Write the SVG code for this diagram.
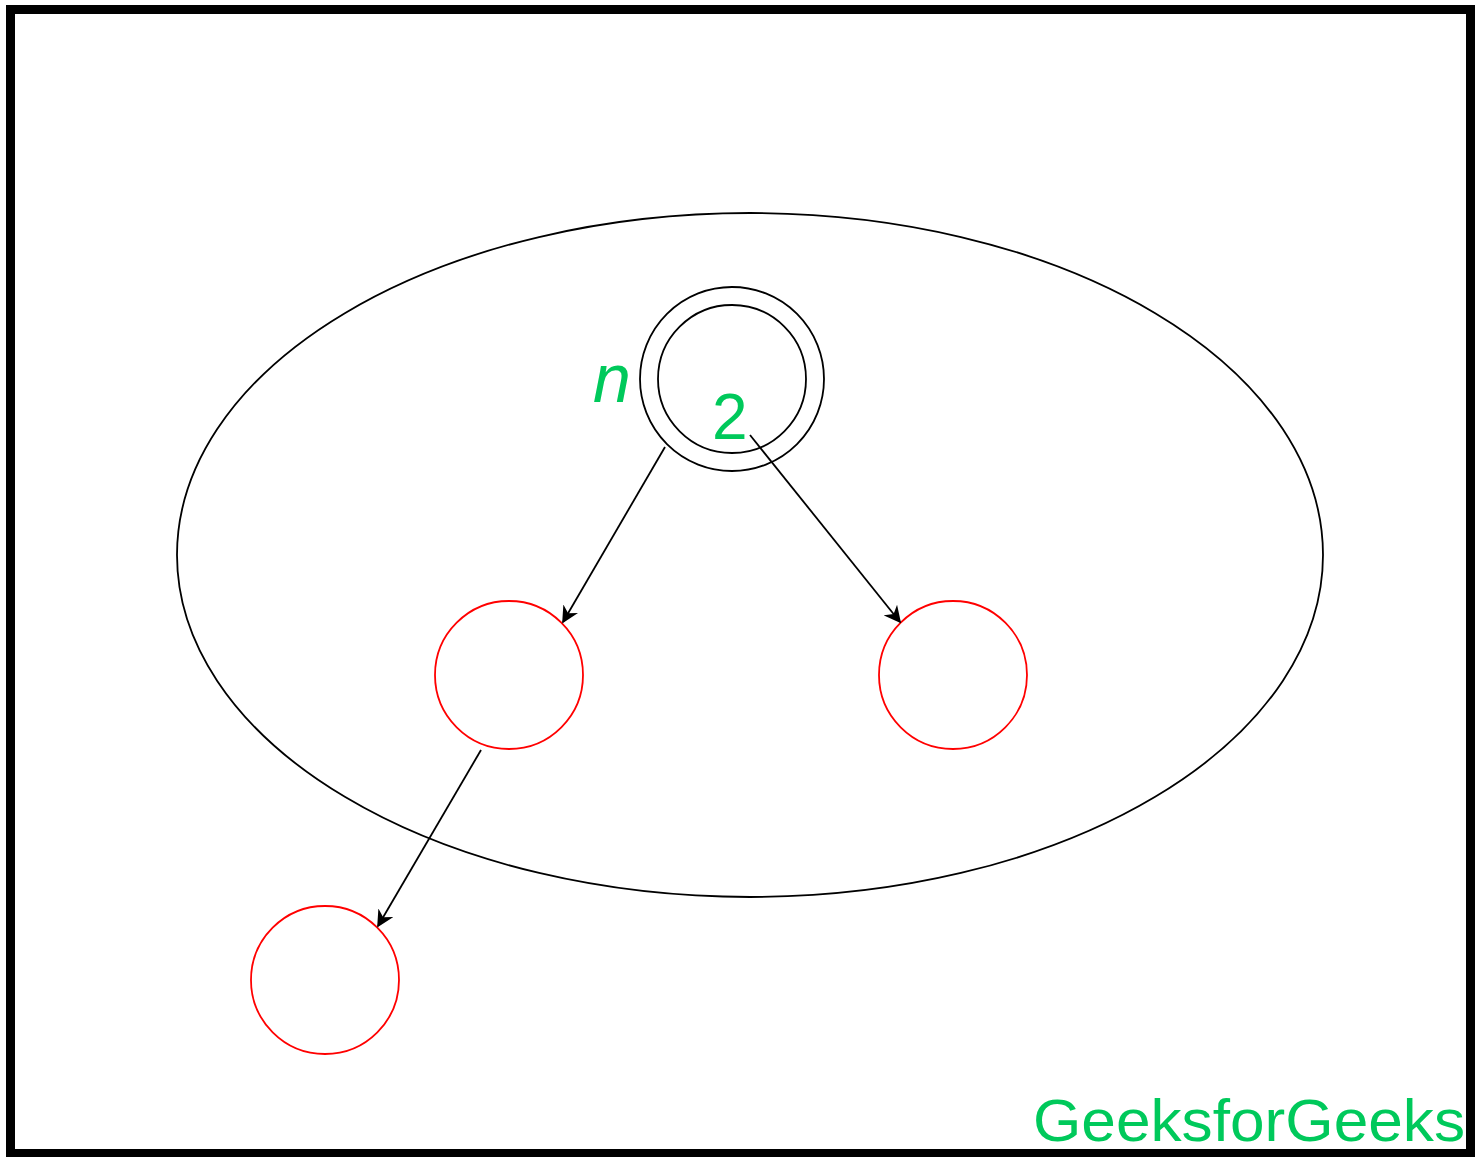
<svg xmlns="http://www.w3.org/2000/svg" width="1484" height="1157" viewBox="0 0 1484 1157">
<style>
.red{fill:none;stroke:#ff0000;stroke-width:1.8}
.blk{fill:none;stroke:#000;stroke-width:1.8}
.edge{stroke:#000;stroke-width:1.8;fill:none;marker-end:url(#ah)}
.g{fill:#00c95b;font-family:"Liberation Sans",Arial,sans-serif}
</style>
<defs>
<marker id="ah" viewBox="0 0 10 10" refX="9" refY="5" markerWidth="17" markerHeight="17" markerUnits="userSpaceOnUse" orient="auto">
<path d="M0,0 L10,5 L0,10 L3,5 Z" fill="#000"/>
</marker>
</defs>
<rect width="1484" height="1157" fill="#fff"/>
<rect id="frame" x="10.5" y="9.5" width="1460" height="1144" fill="none" stroke="#000" stroke-width="9"/>
<g id="region"><ellipse cx="750" cy="555" rx="573" ry="342" class="blk"/></g>
<g id="root">
<circle cx="732" cy="379" r="92" class="blk"/>
<circle cx="732" cy="379" r="74" class="blk"/>
<text x="712" y="439" class="g" font-size="64">2</text>
</g>
<text id="label-n" x="593" y="402" class="g" font-size="68" font-style="italic">n</text>
<g id="left"><circle cx="509" cy="675" r="74" class="red"/></g>
<g id="right"><circle cx="953" cy="675" r="74" class="red"/></g>
<g id="leftleft"><circle cx="325" cy="980" r="74" class="red"/></g>
<g id="connectors">
<line x1="665" y1="447" x2="563" y2="622" class="edge"/>
<line x1="750" y1="435" x2="900" y2="622" class="edge"/>
<line x1="481" y1="750" x2="378" y2="926" class="edge"/>
</g>
<text x="1033" y="1141" class="g" font-size="60" textLength="432" lengthAdjust="spacingAndGlyphs">GeeksforGeeks</text>
</svg>
